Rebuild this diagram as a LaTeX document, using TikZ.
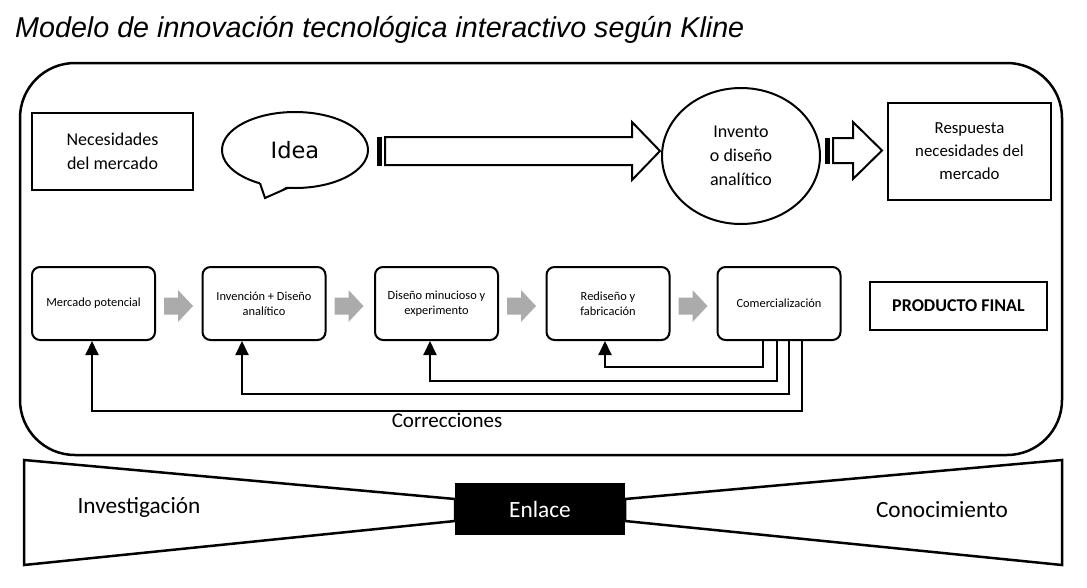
\documentclass[tikz,border=0pt]{standalone}
\usepackage{fontspec}
\setmainfont{Carlito}
\newfontfamily\titlefont{Liberation Sans}
\newfontfamily\ideafont{DejaVu Sans}
\usetikzlibrary{arrows.meta,shapes.geometric}
\begin{document}
\begin{tikzpicture}[x=1pt,y=-1pt,
  sq/.style={draw, line width=2pt, align=center, inner sep=0pt},
  rbox/.style={draw, line width=2pt, rounded corners=8pt, minimum width=123pt, minimum height=73pt, align=center, inner sep=0pt, font=\fontsize{12.4}{15}\selectfont},
  garrow/.style={fill=black!33, draw=none},
  fb/.style={line width=2pt, -{Triangle[width=13pt,length=14pt]}},
  blockarrow/.style={draw, line width=2pt, fill=white, line join=miter},
  bigtext/.style={font=\fontsize{23.3}{28}\selectfont},
]
\useasboundingbox (0,0) rectangle (1087,587);

% title
\node[anchor=base west, inner sep=0pt, font=\titlefont\itshape\fontsize{28.7}{34}\selectfont] (title) at (15,37) {Modelo de innovación tecnológica interactivo según Kline};

% outer frame
\draw[line width=2.5pt, rounded corners=55pt] (20,63) rectangle (1062,455);

% top row
\node[sq, minimum width=161pt, minimum height=77pt, font=\fontsize{18}{24}\selectfont] (nec) at (112.5,151.5) {Necesidades\\del mercado};

\node[ellipse, draw, line width=2pt, fill=white, minimum width=146pt, minimum height=76pt, inner sep=0pt, font=\ideafont\fontsize{22.5}{27}\selectfont] (idea) at (295,150) {Idea};
\fill[white] (259.5,181) -- (265,198) -- (288.5,185.5) -- cycle;
\draw[line width=2pt, line join=miter] (260,183.3) -- (265,198) -- (288,187.8);

\fill (377,136.5) rectangle (382,165.5);
\draw[blockarrow] (385,137) -- (632,137) -- (632,122) -- (660,151) -- (632,180) -- (632,165) -- (385,165) -- cycle;

\node[ellipse, draw, line width=2pt, minimum width=158pt, minimum height=136pt, inner sep=0pt, align=center, font=\fontsize{18}{24}\selectfont] (invento) at (741,156) {Invento\\o diseño\\analítico};

\fill (825,137.5) rectangle (830,163.5);
\draw[blockarrow] (833,138) -- (853,138) -- (853,122) -- (882,150.5) -- (853,179) -- (853,163) -- (833,163) -- cycle;

\node[sq, minimum width=163pt, minimum height=97pt, font=\fontsize{16.8}{23}\selectfont] (resp) at (969.5,151.5) {Respuesta\\necesidades del\\mercado};

% second row
\node[rbox] (mp)  at (93.5,303.5)  {Mercado potencial};
\node[rbox] (inv) at (264,303.5)   {Invención + Diseño\\analítico};
\node[rbox] (dis) at (436.5,303.5) {Diseño minucioso y\\experimento};
\node[rbox] (red) at (608,303.5)   {Rediseño y\\fabricación};
\node[rbox] (com) at (779,303.5)   {Comercialización};

\foreach \a in {mp,inv,dis,red}{
  \fill[garrow, shift={(\a.east)}] (8,-6) -- (22,-6) -- (22,-13.5) -- (37,2.5) -- (22,18.5) -- (22,11) -- (8,11) -- cycle;
}

\node[sq, minimum width=177pt, minimum height=48pt, font=\bfseries\fontsize{18}{22}\selectfont] (pf) at (958.5,306) {PRODUCTO FINAL};

% feedback
\draw[fb] ([xshift=-16pt]com.south) -- ++(0,26) -| ([xshift=-3pt]red.south);
\draw[fb] ([xshift=-2pt]com.south) -- ++(0,40) -| ([xshift=-6.5pt]dis.south);
\draw[fb] ([xshift=10pt]com.south) -- ++(0,53) -| ([xshift=-22pt]inv.south);
\draw[fb] ([xshift=23pt]com.south) -- ++(0,70) -| ([xshift=-1.5pt]mp.south);

\node[font=\fontsize{21}{25}\selectfont] (corr) at (447,420) {Correcciones};

% bottom bowtie
\draw[line width=2.5pt, line join=miter] (24,460) -- (455,499) -- (455,521) -- (24,565) -- cycle;
\draw[line width=2.5pt, line join=miter] (1062,460) -- (625,499) -- (625,521) -- (1062,565) -- cycle;
\node[fill=black, minimum width=170pt, minimum height=52pt, inner sep=0pt, text=white, bigtext] (enl) at (540,509) {Enlace};
\node[bigtext] (invest) at (139,507) {Investigación};
\node[bigtext] (conoc) at (942,510) {Conocimiento};
\end{tikzpicture}
\end{document}
